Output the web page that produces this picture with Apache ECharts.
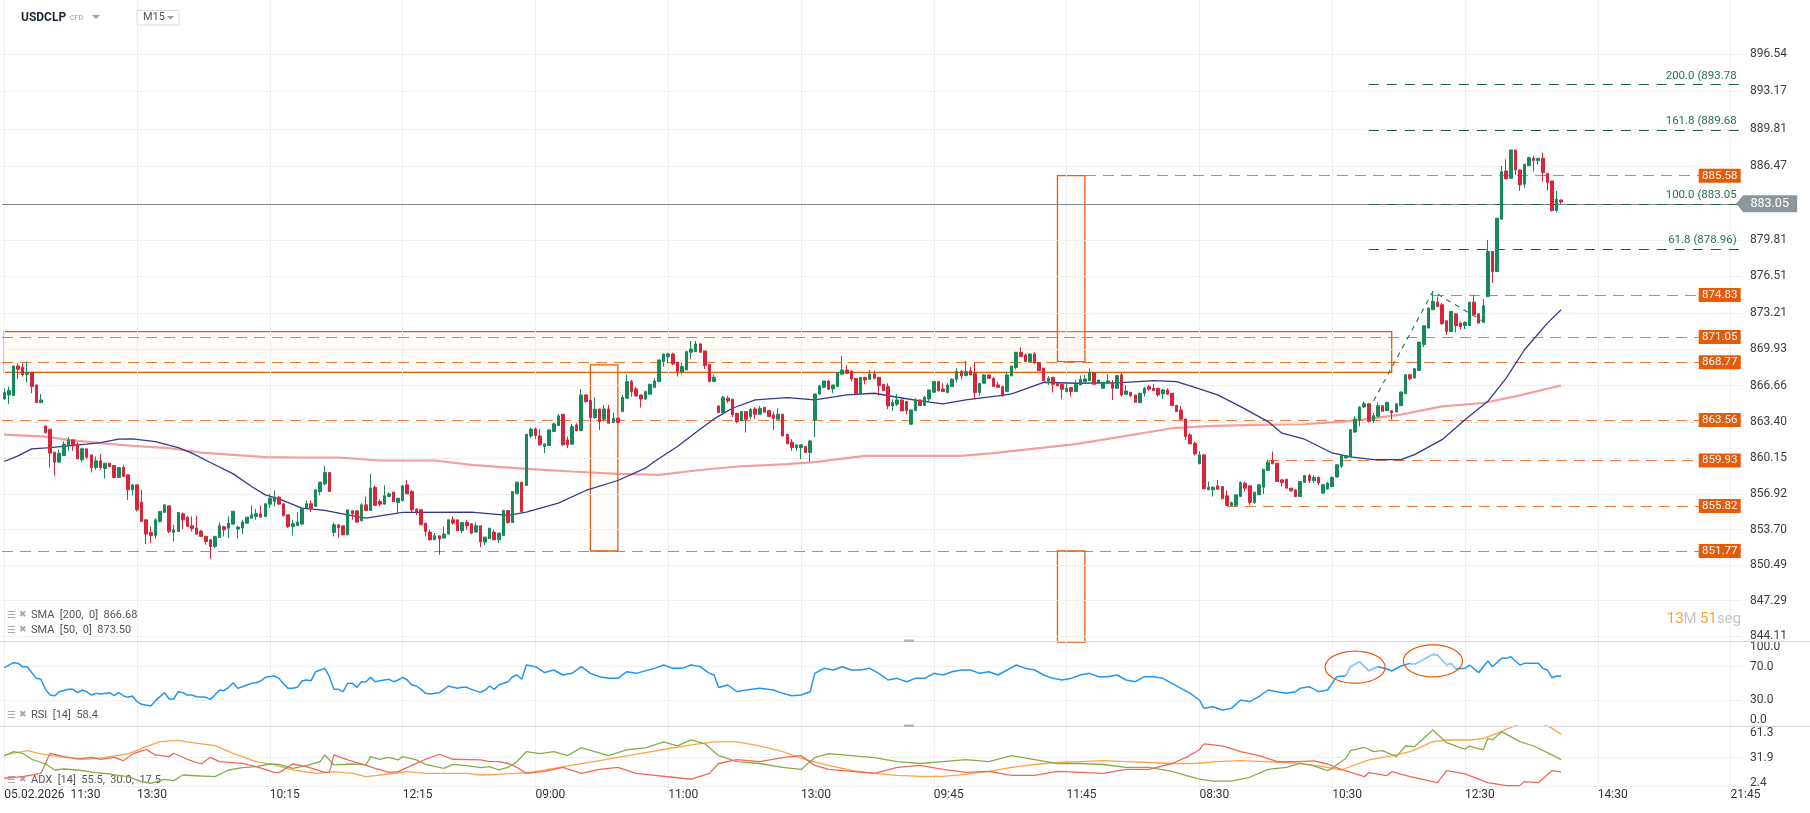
<!DOCTYPE html>
<html>
<head>
<meta charset="utf-8">
<title>USDCLP M15</title>
<script src="https://cdn.jsdelivr.net/npm/echarts@6.0.0/dist/echarts.min.js"></script>
<style>
html,body{margin:0;padding:0;background:#ffffff;overflow:hidden}
#chart{width:1810px;height:813px}
</style>
</head>
<body>
<div id="chart"></div>
<script>
// ================= DATA =================
const symbolName = 'USDCLP';
const timeframe = 'M15';
const xTickLabels = ['05.02.2026  11:30','13:30','10:15','12:15','09:00','11:00','13:00','09:45','11:45','08:30','10:30','12:30','14:30','21:45'];
const barsPerTick = 29;
const slotCount = 380;
const priceTickLabels = [896.54, 893.17, 889.81, 886.47, 879.81, 876.51, 873.21, 869.93, 866.66, 863.40, 860.15, 856.92, 853.70, 850.49, 847.29, 844.11];

// candles: [open, high, low, close]
const ohlc = [
[865.47,866.43,865.38,866.04],[865.83,866.58,865.02,866.22],[865.77,868.44,865.77,868.44],[868.44,868.68,867.27,868.14],[868.32,868.68,867.48,867.63],
[867.69,868.83,866.94,867.87],[867.87,867.87,865.98,866.58],[866.73,866.73,865.14,865.14],[865.14,865.92,865.14,865.38],[863.04,863.04,862.32,862.44],
[862.74,862.74,859.29,860.58],[860.67,860.67,858.57,859.77],[859.77,860.88,859.77,860.58],[860.37,861.63,860.37,861.39],[861.24,862.02,860.79,861.78],
[861.78,861.78,860.79,861.24],[861.39,861.54,860.07,860.07],[859.98,861.09,859.77,860.97],[860.97,860.97,860.07,860.22],[860.43,860.43,858.84,859.29],
[859.29,860.28,859.08,859.89],[859.89,860.49,859.08,859.29],[859.20,859.68,858.30,859.68],[859.68,859.68,859.29,859.38],[859.47,859.47,858.30,858.39],
[858.39,859.29,858.39,859.29],[859.29,859.53,858.48,858.48],[858.63,858.63,856.38,857.28],[857.28,857.79,856.77,857.73],[857.73,857.73,855.33,855.48],
[856.17,857.28,854.43,854.43],[854.58,854.58,852.39,853.29],[853.44,853.98,852.48,853.17],[853.17,854.73,852.87,854.58],[854.43,855.33,854.34,855.33],
[855.24,855.93,855.24,855.93],[855.84,855.84,853.38,853.53],[853.44,854.13,852.63,853.68],[853.53,855.24,853.53,855.24],[855.12,855.24,853.74,854.58],
[854.79,854.94,853.98,853.98],[854.04,854.88,853.53,853.80],[853.83,854.94,853.23,853.29],[853.56,853.68,853.08,853.08],[853.08,853.14,852.33,852.63],
[852.78,852.78,851.04,852.18],[852.18,853.14,852.03,853.08],[852.99,854.34,852.99,854.04],[853.95,854.04,853.08,853.68],[853.83,854.88,852.93,854.28],
[854.19,855.36,854.13,855.36],[853.74,854.04,852.87,853.92],[853.83,854.58,853.29,854.37],[854.28,854.82,854.22,854.82],[854.73,855.87,854.73,855.03],
[854.88,855.57,854.58,855.12],[855.12,855.87,854.82,854.82],[854.88,856.08,854.82,856.02],[855.99,856.92,855.63,856.53],[856.23,857.19,855.78,856.62],
[856.62,856.74,855.93,855.99],[856.02,856.02,854.88,854.97],[855.03,855.03,853.83,853.98],[853.98,854.58,853.17,854.22],[854.07,855.27,853.98,854.37],
[854.19,855.63,854.13,855.57],[855.57,856.32,855.57,856.02],[856.02,856.32,855.27,855.63],[855.78,857.28,855.78,857.28],[857.13,857.97,856.77,857.97],
[857.82,859.44,857.67,858.84],[858.84,858.84,857.13,857.13],[853.44,854.34,853.08,854.13],[854.13,854.13,852.99,853.89],[854.04,854.04,853.17,853.23],
[853.23,855.48,853.23,855.48],[855.39,855.39,854.58,855.12],[855.39,855.39,854.28,854.37],[854.49,856.08,854.43,855.93],[855.93,856.68,855.42,855.42],
[855.42,858.72,855.42,857.43],[857.49,857.67,855.87,855.87],[856.23,856.44,855.78,855.99],[855.99,857.67,855.99,856.74],[856.68,857.04,856.68,856.92],
[857.07,857.07,856.23,856.23],[856.14,856.53,855.09,856.53],[856.32,857.64,856.23,857.64],[857.73,858.18,856.92,856.92],[857.13,857.28,855.27,855.48],
[855.54,855.63,855.03,855.33],[855.48,855.54,854.13,854.13],[854.28,854.28,853.08,853.53],[853.47,853.68,852.69,852.78],[852.78,853.38,852.78,853.14],
[853.14,853.14,851.43,852.87],[852.93,853.98,852.93,853.29],[853.29,854.58,853.29,854.58],[854.58,854.88,854.13,854.28],[854.58,854.58,853.59,853.59],
[853.59,854.34,853.38,854.34],[854.34,854.58,853.68,854.04],[854.22,854.22,853.29,853.38],[853.47,854.34,853.47,854.04],[854.04,854.04,852.12,852.57],
[852.57,853.02,852.27,853.02],[852.87,853.83,852.87,853.83],[853.47,853.68,852.78,852.78],[852.78,853.38,852.48,853.38],[853.17,855.48,853.17,855.42],
[855.42,855.42,854.22,854.34],[854.34,857.13,854.34,857.13],[856.92,858.03,856.92,857.97],[857.97,857.97,855.18,855.33],[857.67,862.29,857.67,862.29],
[862.14,862.89,861.93,862.74],[862.77,862.89,861.84,862.17],[862.14,862.77,861.27,861.33],[861.18,861.42,860.58,861.42],[861.27,862.68,861.27,862.68],
[862.53,863.34,862.53,863.22],[863.07,864.12,863.07,863.94],[864.09,864.09,861.27,861.33],[861.78,862.08,861.03,861.33],[861.39,863.22,861.39,862.98],
[863.13,863.28,862.59,862.59],[862.62,866.37,862.62,865.83],[865.83,865.92,865.14,865.23],[865.32,865.32,863.43,863.79],[863.79,865.62,863.67,864.54],
[864.57,864.57,862.68,863.43],[863.64,864.93,863.43,864.57],[864.57,864.93,863.28,863.28],[863.34,864.24,863.34,863.73],[863.73,863.73,863.34,863.34],
[864.33,865.83,864.33,865.62],[865.53,867.63,865.53,867.03],[867.03,867.18,865.68,866.13],[866.37,866.58,865.68,865.74],[865.83,865.83,864.69,865.47],
[865.47,866.22,865.38,866.13],[865.89,866.79,865.89,866.79],[866.49,867.33,866.49,867.09],[867.03,868.98,867.03,868.98],[868.83,869.52,868.38,869.52],
[869.28,869.64,868.68,869.52],[869.52,869.64,868.53,868.62],[868.77,868.77,867.48,867.93],[867.87,868.74,867.69,868.38],[868.08,869.82,868.08,869.73],
[869.67,870.69,869.04,869.97],[869.73,870.69,869.73,870.42],[870.42,870.48,869.67,869.67],[869.79,869.79,868.17,868.47],[868.59,868.59,867.03,867.03],
[867.03,867.63,867.03,867.42],[864.84,864.84,864.24,864.24],[864.24,865.74,864.24,865.62],[865.53,865.74,865.08,865.29],[865.44,865.44,863.82,864.03],
[864.18,864.18,863.28,863.43],[863.49,864.33,863.49,864.33],[864.33,864.33,862.44,863.64],[863.88,864.63,863.64,864.54],[864.57,864.72,863.64,864.09],
[864.09,864.84,864.03,864.63],[864.72,864.72,864.27,864.27],[864.42,864.48,863.88,863.88],[864.03,864.33,862.68,863.73],[863.64,864.63,863.64,864.09],
[864.09,864.09,862.08,862.14],[862.29,862.29,861.42,861.42],[861.57,861.84,860.79,861.09],[861.09,861.33,860.79,861.33],[861.09,861.42,860.04,861.33],
[861.18,861.24,860.64,860.64],[860.64,861.78,859.83,861.69],[863.58,865.92,862.02,865.92],[865.92,866.73,865.83,866.64],[866.52,867.09,866.43,867.09],
[867.09,867.18,866.34,866.34],[866.37,866.73,865.98,866.73],[866.58,867.84,866.58,867.84],[867.69,869.34,867.69,868.08],[868.08,868.53,867.78,867.78],
[867.99,867.99,867.03,867.27],[867.33,867.33,865.92,865.92],[865.92,867.42,865.92,867.42],[867.42,867.42,866.79,867.18],[867.24,868.08,867.24,867.72],
[867.72,868.02,867.24,867.33],[867.42,867.42,865.77,866.67],[866.79,866.79,866.22,866.22],[866.58,866.88,864.54,864.84],[864.84,865.44,864.39,865.14],
[864.99,865.92,864.84,865.38],[865.38,865.38,864.39,864.39],[865.23,865.23,864.09,864.42],[863.19,864.48,863.13,864.48],[864.42,865.53,864.42,865.38],
[865.38,865.38,864.87,864.87],[864.87,865.74,864.87,865.62],[865.47,866.28,865.17,866.28],[866.07,867.09,866.07,867.03],[867.03,867.03,866.19,866.19],
[866.37,866.88,866.13,866.13],[866.04,866.88,866.04,866.73],[866.58,867.33,866.58,867.24],[867.24,868.23,866.97,867.93],[867.93,868.08,867.24,867.54],
[867.57,868.89,867.57,867.93],[867.99,868.38,867.63,867.63],[867.78,868.74,865.44,866.04],[866.04,866.88,865.74,866.88],[866.88,867.72,866.88,867.63],
[867.63,867.63,867.33,867.33],[867.33,867.42,866.58,866.58],[866.73,867.03,866.52,866.52],[866.58,866.64,865.68,865.74],[866.13,867.93,866.13,867.63],
[867.54,868.44,867.54,868.44],[868.29,869.67,868.14,869.67],[869.67,870.12,869.28,869.28],[869.43,869.58,868.83,868.83],[868.83,869.58,868.83,869.52],
[869.52,869.67,868.62,868.74],[868.74,868.74,868.02,868.02],[868.23,868.23,867.12,867.12],[867.09,867.54,866.73,867.33],[867.42,867.42,866.04,866.79],
[866.88,866.88,866.64,866.64],[866.79,866.79,865.44,866.34],[866.13,866.88,866.07,866.43],[866.49,866.49,865.68,866.13],[866.13,867.18,866.13,866.79],
[866.73,867.57,866.73,867.24],[867.03,867.63,867.03,867.27],[867.12,868.23,867.12,867.84],[867.84,867.84,866.79,866.79],[866.88,867.18,866.88,867.18],
[866.43,866.97,866.43,866.97],[866.88,867.69,866.88,867.09],[866.94,867.18,865.38,866.43],[866.43,867.57,866.43,867.57],[867.63,867.84,865.68,865.83],
[865.89,866.73,865.89,866.19],[866.07,866.07,865.62,865.77],[865.83,865.83,865.17,865.17],[865.14,866.04,865.08,865.98],[865.98,866.58,865.68,866.43],
[866.58,866.73,866.22,866.34],[866.43,866.82,866.22,866.22],[866.43,866.43,865.68,865.83],[865.92,866.37,865.47,866.28],[866.28,866.43,865.89,865.89],
[865.98,865.98,864.87,864.87],[864.90,864.90,864.33,864.33],[864.48,864.84,863.64,863.64],[863.67,863.67,861.78,862.08],[862.23,862.38,861.42,861.42],
[861.48,861.63,860.37,860.52],[859.62,860.73,859.62,860.43],[860.43,860.43,857.37,857.37],[857.28,858.03,857.28,857.52],[857.28,857.58,856.68,857.52],
[857.64,858.18,857.28,857.34],[857.58,857.58,856.47,856.47],[856.74,857.22,855.87,855.87],[855.87,856.23,855.87,856.14],[855.87,856.83,855.87,856.83],
[856.68,858.03,856.68,857.94],[857.88,858.03,857.13,857.43],[857.64,857.64,855.93,856.14],[856.14,857.07,856.02,857.07],[856.83,857.82,856.83,857.73],
[857.52,859.14,856.89,859.14],[859.02,859.98,859.02,859.77],[859.92,860.73,859.62,859.62],[859.68,859.68,858.03,858.03],[858.18,858.18,857.58,857.94],
[858.24,858.24,857.43,857.43],[857.43,857.43,857.13,857.19],[857.28,857.28,856.62,856.68],[856.68,858.03,856.62,858.03],[857.94,858.63,857.94,858.57],
[858.57,858.70,857.90,858.10],[858.10,858.60,857.90,858.40],[858.40,858.50,857.70,857.90],[856.99,857.80,856.90,857.74],[857.35,858.00,857.30,857.89],
[857.59,858.50,857.50,858.40],[858.43,859.60,858.40,859.54],[859.40,860.45,859.25,860.36],[860.15,860.40,860.10,860.36],[860.24,862.70,860.24,862.70],
[862.49,863.90,862.40,863.66],[863.60,864.80,863.00,864.74],[864.74,865.25,864.65,865.04],[865.04,865.04,863.36,863.45],[863.51,864.20,863.30,863.96],
[863.90,865.16,863.90,864.86],[864.86,864.86,864.35,864.35],[864.41,865.16,864.41,865.16],[864.41,864.41,863.60,864.20],[864.29,865.04,864.29,865.04],
[864.86,866.15,864.86,866.09],[865.94,867.71,865.94,867.65],[867.65,867.65,867.14,867.29],[867.35,868.25,867.35,868.19],[868.04,870.59,868.04,870.59],
[870.35,872.06,870.14,872.06],[871.85,873.71,871.85,873.65],[873.50,875.15,873.50,874.25],[874.19,874.70,873.80,873.80],[873.95,874.10,872.15,872.24],
[872.51,872.51,871.25,871.55],[871.55,873.35,871.55,873.35],[873.14,873.14,871.46,872.06],[872.30,872.45,871.76,872.00],[872.09,872.45,871.76,872.36],
[872.09,874.19,872.09,874.19],[874.19,874.85,872.96,873.05],[873.14,873.14,872.30,872.30],[872.36,874.46,872.36,873.86],[874.70,879.80,874.70,878.75],
[878.75,878.75,875.90,876.95],[876.95,881.75,876.95,881.75],[881.66,886.46,881.66,885.95],[886.01,887.06,885.29,885.29],[885.35,887.90,885.35,887.90],
[887.90,887.90,885.65,886.10],[886.10,886.10,884.21,884.75],[884.81,886.61,884.45,886.61],[886.49,887.30,886.46,887.21],[887.15,887.36,885.95,886.94],
[886.94,887.15,886.55,887.15],[887.15,887.66,885.05,885.86],[885.80,885.80,884.24,884.99],[885.11,885.11,882.35,882.44],[882.44,884.21,882.26,883.46],
[883.40,883.40,883.04,883.20]
];

// moving averages: [barIndex, value]
const sma200 = [[0,862.26],[9,862.08],[14,861.78],[21,861.48],[28,861.24],[36,861.03],[43,860.64],[50,860.43],[57,860.22],[65,860.19],[73,860.19],[82,859.92],[94,859.92],[102,859.53],[114,859.17],[124,858.93],[134,858.72],[143,858.63],[151,859.02],[160,859.38],[171,859.59],[177,859.77],[188,860.34],[209,860.34],[216,860.58],[227,861.09],[234,861.39],[244,862.08],[255,862.83],[264,863.04],[274,863.13],[284,863.19],[295,863.51],[305,864.05],[314,864.80],[323,865.10],[330,865.70],[340,866.68]];
const sma50 = [[0,859.83],[3,860.34],[6,860.97],[10,861.09],[14,861.24],[18,861.39],[21,861.54],[25,861.84],[28,861.87],[33,861.63],[38,861.09],[41,860.58],[45,859.74],[50,858.72],[54,857.58],[57,856.83],[60,856.47],[65,855.63],[70,855.42],[75,855.03],[79,854.73],[87,855.24],[102,855.27],[110,854.97],[114,855.27],[121,856.08],[127,857.22],[134,858.12],[140,859.23],[142,859.83],[147,861.18],[151,862.44],[155,863.67],[159,864.63],[164,865.38],[171,865.59],[177,865.38],[184,865.83],[190,865.98],[195,865.62],[200,865.29],[205,865.02],[210,865.38],[217,865.74],[220,865.92],[227,866.97],[234,866.88],[244,866.94],[251,867.12],[256,867.03],[260,866.52],[265,865.83],[270,864.78],[276,863.43],[279,862.38],[284,861.84],[290,860.60],[294,860.24],[299,860.00],[305,860.00],[308,860.45],[314,861.80],[319,863.60],[324,865.25],[328,867.35],[332,869.90],[337,872.30],[340,873.50]];

// RSI(14): [barIndex, value]
const rsi14 = [[0,68.8],[2,74.8],[3,74],[4,70],[5,70],[7,56],[8,55],[9,42.8],[10,36],[11,35],[12,40],[14,43],[15,42.8],[16,38.8],[17,42],[18,40],[19,36],[20,38],[21,37.2],[23,38.8],[24,35.2],[25,38.8],[26,35.2],[27,33.2],[28,34.8],[29,28],[30,24.8],[32,22.8],[33,29.2],[34,34],[35,38.8],[36,31.2],[37,31.2],[38,40],[39,38.8],[40,36],[41,36],[42,34],[44,33.2],[45,30.8],[46,36],[47,42],[48,41.2],[49,45.2],[50,50.8],[51,44],[52,46],[53,48],[54,50],[55,50.8],[56,52.8],[57,57.2],[59,58.8],[60,56],[61,49.2],[62,44],[63,44],[64,45.2],[65,52.8],[66,54],[67,53.2],[68,64],[69,66],[70,68],[71,58],[72,42.8],[73,42.8],[74,40],[75,50],[76,50],[77,45.2],[78,52],[79,52],[80,57.2],[81,52],[82,53.2],[83,54],[84,54.8],[85,52],[86,54],[87,57.2],[88,54],[89,48],[90,46.8],[91,42.8],[92,38],[93,37.2],[95,38.8],[96,42.8],[97,46.8],[98,45.2],[99,44],[100,45.2],[101,45.2],[102,42.8],[104,39.2],[105,42],[106,46.8],[107,42.8],[108,48],
[110,52],[111,58],[112,60],[113,55],[114,72],[116,70],[118,63],[120,66],[122,60],[124,62],[126,70],[128,62],[130,58],[132,56],[134,56],[136,64],[138,62],[140,65],[142,68],[144,72],[146,68],[148,68],[150,72],[152,70],[154,62],[155,60],[156,45],[158,48],[160,40],[162,42],[165,44],[168,42],[170,38],[172,35],[174,36],[176,40],[177,62],[179,68],[181,66],[183,70],[185,66],[187,66],[189,68],[191,62],[193,54],[195,56],[197,52],[199,56],[201,56],[203,62],[205,60],[207,64],[209,66],[211,66],[213,62],[215,64],[217,60],[219,66],[221,72],[223,68],[225,66],[227,60],[229,56],[231,54],[233,56],[235,60],[237,62],[239,58],[241,58],[243,60],[245,54],[247,52],[249,58],[251,58],[253,56],[255,50],[257,44],[259,38],[261,30],[262,20],[264,22],[266,18],[268,20],[270,30],[272,28],[274,34],[276,42],[278,40],[280,38],[282,40],
[283,44],[285,46],[287,40],[289,42],[291,58],[293,59.2],[294,70],[296,76],[298,65.2],[300,70],[302,67.2],[303,64.8],[305,70.8],[307,74],[308,72.8],[310,78.8],[312,84.8],[313,84],[315,72],[316,74],[317,67.2],[319,68],[320,72],[322,62.8],[324,76.8],[325,70],[327,80],[328,80],[329,82],[331,72],[332,74],[335,74],[336,68],[337,66],[338,56.8],[339,58.8],[340,58.4]];
const rsiHighlightRanges = [[293,301],[307,317]];

// ADX(14), +DI, -DI: [barIndex, value]
const adxLine = [[0,34.7],[5,39.1],[8,35.7],[12,33],[17,30.3],[22,32.3],[27,35.7],[31,43.1],[34,48.2],[38,49.6],[41,47.2],[46,44.2],[50,36.4],[55,27.9],[59,24.5],[63,19.4],[68,16],[72,17.7],[76,16],[79,12.6],[84,15.3],[88,17.7],[92,16],[101,16],[104,14.3],[108,15],
[115,17],[120,21],[125,25],[130,29],[135,33],[140,37],[145,41],[150,45],[155,48],[160,48],[165,44],[170,38],[175,30],[180,24],[185,19],[190,16],[195,14],[200,13],[205,13],[210,15],[215,18],[220,22],[225,25],[230,27],[235,28],[240,29],[245,28],[250,27],[255,26],[260,26],[265,28],[270,29],[275,28],[280,27],
[283,26.2],[288,22.8],[292,19.4],[298,29.6],[303,33.7],[307,38.1],[312,48.2],[315,49.9],[320,49.9],[323,51.6],[326,56.7],[329,62.8],[331,66],[336,66],[338,62],[340,55.5]];
const diPlus = [[0,33.6],[2,38],[4,36.4],[6,30.3],[9,25.5],[11,19.4],[13,20.4],[16,19.4],[20,16.7],[23,15.3],[27,12.6],[30,7.6],[32,5.9],[35,9.9],[37,8.6],[39,14.3],[43,13.3],[46,12.6],[49,19.4],[52,21.8],[55,22.8],[58,25.5],[60,25.2],[63,21.1],[66,23.8],[69,27.9],[70,34.7],[72,24.5],[76,25.5],[79,24.5],[80,33],[82,30.3],[84,32.3],[86,29.6],[87,33],[90,29.6],[92,25.2],[96,21.1],[98,25.2],[101,23.8],[104,21.8],[106,22.8],[108,19.4],
[110,22],[112,28],[114,38],[117,36],[120,38],[123,34],[126,42],[129,38],[132,34],[136,40],[140,42],[144,48],[147,44],[150,50],[153,46],[156,34],[160,28],[165,26],[170,22],[174,20],[177,32],[180,36],[185,34],[190,32],[195,28],[200,26],[205,28],[210,30],[215,28],[220,34],[225,30],[230,26],[235,26],[240,25],[245,22],[250,22],[255,18],[258,14],[261,10],[264,8],[268,8],[272,12],[276,20],[280,22],
[283,26.2],[286,23.5],[289,18.7],[290,21.1],[293,31.3],[294,39.1],[297,42.5],[299,38.1],[301,39.1],[304,33],[306,43.8],[308,43.2],[312,60.1],[315,47.2],[319,40.4],[320,43.8],[323,39.8],[324,51.6],[325,49.9],[327,58.4],[331,48.2],[334,43.8],[337,37],[340,30]];
const diMinus = [[0,11],[4,12.6],[8,16],[10,36.4],[13,33],[16,30.6],[19,32.3],[21,30.3],[24,32.3],[26,28.9],[28,35.7],[31,40.4],[33,34.7],[36,33],[37,36.4],[40,30.3],[43,25.5],[45,32.3],[47,27.9],[52,26.2],[55,22.8],[59,17],[60,16.7],[63,25.5],[66,22.8],[70,17],[71,17],[72,34.7],[75,29.6],[78,25.5],[81,21.1],[84,17],[86,17.7],[90,26.2],[92,30.3],[95,35.4],[98,30.3],[104,29.6],[106,27.9],[108,27.9],
[110,26],[112,22],[114,16],[118,18],[122,22],[126,16],[130,20],[134,22],[138,16],[142,14],[146,12],[150,10],[154,16],[156,26],[160,30],[165,28],[170,32],[174,34],[177,24],[180,20],[185,18],[190,16],[195,22],[200,24],[205,20],[210,17],[215,18],[220,14],[225,14],[230,18],[235,17],[240,16],[245,20],[250,20],[255,26],[258,32],[261,40],[262,46],[266,44],[270,38],[274,34],[278,28],[281,28],
[283,27.9],[286,28.6],[289,25.5],[292,20.1],[297,12.6],[298,16.7],[302,13.7],[303,17.7],[307,12.6],[313,6.5],[315,18.7],[319,15.4],[324,6.5],[328,3.5],[331,3.5],[332,7.6],[335,6.5],[338,18.7],[340,17.5]];

// drawn levels (null start = line drawn across the whole panel)
const srLevels = [885.58, 874.83, 871.05, 868.77, 863.56, 859.93, 855.82, 851.77];
const srStartBar = [236, 312, null, null, null, 276, 267, null];
const fibLevels = [893.78, 889.68, 883.05, 878.96];
const fibNames = ['200.0 (893.78', '161.8 (889.68', '100.0 (883.05', '61.8 (878.96)'];
const fibStartBar = 298;
const fibAnchors = [[298, 864.5], [312, 875.15], [323, 872.45]];
const rangeBox = [[-2, 871.53], [303, 867.87]];
const projBoxes = [[[128, 868.53], [134, 851.77]], [[230, 885.58], [236, 868.83]], [[230, 851.77], [236, 843.57]]];
const lastPrice = 883.05;
const smaLegend = ['SMA  [200,  0]  866.68', 'SMA  [50,  0]  873.50'];
const rsiLegend = 'RSI  [14]  58.4';
const adxLegend = 'ADX  [14]  55.5,  30.0,  17.5';
const rsiTicks = [100, 70, 30, 0];
const adxTicks = [61.3, 31.9, 2.4];
const countdown = ['13', 'M', '51', 'seg'];

// ================= CHART =================
const UP = '#178a5a', DOWN = '#d9253b', ORANGE = '#e8590c', FIBC = '#1d6048';
const FONT = 'Roboto, "Noto Sans", sans-serif';
const NOLINE = 'rgba(0,0,0,0)';
const categories = Array.from({length: slotCount}, (_, i) =>
  (i % barsPerTick === 0 && xTickLabels[i / barsPerTick] !== undefined) ? xTickLabels[i / barsPerTick] : '');
const vGridBars = xTickLabels.map((_, k) => k * barsPerTick);
const lastBar = slotCount - 1;

const chart = echarts.init(document.getElementById('chart'), null, {width: 1810, height: 813});

const gridBase = {left: 2, right: 68, outerBoundsMode: 'none', containLabel: false};
const grids = [
  Object.assign({top: 0, height: 642}, gridBase),
  Object.assign({top: 641.7, height: 83.3}, gridBase),
  Object.assign({top: 726, height: 63}, gridBase)
];
const xAxes = [0, 1, 2].map(g => ({
  type: 'category', gridIndex: g, data: categories, boundaryGap: true,
  axisLine: {show: false}, axisTick: {show: false}, splitLine: {show: false},
  axisLabel: g === 2 ? {show: true, interval: barsPerTick - 1, align: 'left', margin: 0, color: '#333', fontSize: 12, fontFamily: FONT} : {show: false}
}));
const hiddenY = {axisLine: {show: false}, axisTick: {show: false}, axisLabel: {show: false}, splitLine: {show: false}};
const yAxes = [
  Object.assign({type: 'value', gridIndex: 0, min: 843.57, max: 901.41}, hiddenY),
  Object.assign({type: 'value', gridIndex: 1, min: 0, max: 100}, hiddenY),
  Object.assign({type: 'value', gridIndex: 2, min: 0.06, max: 64.15}, hiddenY)
];

const vLineItems = vGridBars.map(b => ({xAxis: b, label: {show: false}}));
const gridLineStyle = {color: '#efefef', width: 1, type: 'solid'};
const tickLabel = {show: true, position: 'end', distance: 8, color: '#3c3c3c', fontSize: 12, fontFamily: FONT};

function helper(g, items) {
  return {
    type: 'line', xAxisIndex: g, yAxisIndex: g, data: [], clip: false, silent: true, z: 1,
    markLine: {silent: true, symbol: 'none', animation: false, lineStyle: gridLineStyle, label: tickLabel, data: items}
  };
}

const mainGridItems = priceTickLabels.map(v => ({yAxis: v, label: {formatter: v.toFixed(2)}})).concat(vLineItems);
const rsiGridItems = rsiTicks.map(v => {
  const edge = (v === 100 || v === 0);
  return {yAxis: v, label: {formatter: v.toFixed(1), offset: [0, v === 100 ? 5 : (v === 0 ? -5 : 0)]},
    lineStyle: edge ? {color: NOLINE, width: 1, type: 'solid'} : gridLineStyle};
}).concat(vLineItems);
const adxGridItems = adxTicks.map((v, k) => ({yAxis: v, label: {formatter: v.toFixed(1), offset: [0, k === 0 ? 4 : (k === 2 ? -4 : 0)]},
  lineStyle: k === 0 ? {color: NOLINE, width: 1, type: 'solid'} : gridLineStyle})).concat(vLineItems);

// overlays
const srLines = srLevels.map((v, k) => srStartBar[k] === null ? {yAxis: v} : [{coord: [srStartBar[k], v]}, {coord: [lastBar, v]}]);
const fibLines = fibLevels.map((v, k) => [{coord: [fibStartBar, v], label: {formatter: fibNames[k]}}, {coord: [lastBar, v]}]);

const srTags = srLevels.map(v => ({
  coord: [lastBar, v], symbol: 'rect', symbolSize: [42, 14], symbolOffset: [-20, 0],
  itemStyle: {color: '#e65a0a'},
  label: {show: true, position: 'inside', formatter: v.toFixed(2), color: '#fff', fontSize: 11.5, fontFamily: FONT}
}));
const priceTag = {
  coord: [lastBar, lastPrice], symbol: 'path://M0,8.5 L7,0 L61,0 L61,17 L7,17 Z', symbolSize: [61, 17], symbolKeepAspect: false,
  symbolOffset: [27, 0], itemStyle: {color: '#8b969d'},
  label: {show: true, position: 'inside', formatter: lastPrice.toFixed(2), color: '#fff', fontSize: 12.5, fontFamily: FONT, offset: [3, 0]}
};

function rsiSegment(range) {
  return rsi14.filter(p => p[0] >= range[0] && p[0] <= range[1]);
}

const series = [
  helper(0, mainGridItems),
  helper(1, rsiGridItems),
  helper(2, adxGridItems),
  {
    type: 'line', xAxisIndex: 0, yAxisIndex: 0, data: [], clip: true, silent: true, z: 2,
    markArea: {
      silent: true, animation: false,
      data: [
        [{coord: rangeBox[0], itemStyle: {color: 'rgba(255,236,215,0.22)', borderColor: ORANGE, borderWidth: 1.3}}, {coord: rangeBox[1]}]
      ].concat(projBoxes.map(b => [{coord: b[0], itemStyle: {color: 'rgba(255,240,225,0.18)', borderColor: ORANGE, borderWidth: 1.3}}, {coord: b[1]}]))
    }
  },
  {
    type: 'line', xAxisIndex: 0, yAxisIndex: 0, data: [], clip: true, silent: true, z: 3,
    markLine: {silent: true, symbol: 'none', animation: false,
      lineStyle: {color: '#7d8a93', width: 1, type: 'solid'}, label: {show: false}, data: [{yAxis: lastPrice}]}
  },
  {
    type: 'line', xAxisIndex: 0, yAxisIndex: 0, data: [], clip: true, silent: true, z: 3,
    markLine: {silent: true, symbol: 'none', animation: false,
      lineStyle: {color: '#ec6a25', width: 1.2, type: [11, 7], opacity: 0.9}, label: {show: false}, data: srLines}
  },
  {
    type: 'line', xAxisIndex: 0, yAxisIndex: 0, data: [], clip: false, silent: true, z: 4,
    markLine: {silent: true, symbol: 'none', animation: false,
      lineStyle: {color: FIBC, width: 1.2, type: [10, 8]},
      label: {show: true, position: 'insideEndTop', distance: 3, color: '#2a6e52', fontSize: 11.5, fontFamily: FONT},
      data: fibLines}
  },
  {type: 'line', xAxisIndex: 0, yAxisIndex: 0, data: sma200, symbol: 'none', silent: true, z: 5,
   lineStyle: {color: 'rgba(238,100,100,0.62)', width: 2.2}},
  {type: 'line', xAxisIndex: 0, yAxisIndex: 0, data: sma50, symbol: 'none', silent: true, z: 6,
   lineStyle: {color: '#33388c', width: 1.3}},
  {
    type: 'candlestick', xAxisIndex: 0, yAxisIndex: 0, barWidth: 3, z: 7, silent: true,
    data: ohlc.map(r => [r[0], r[3], r[2], r[1]]),
    itemStyle: {color: UP, color0: DOWN, borderColor: UP, borderColor0: DOWN, borderColorDoji: UP, borderWidth: 1}
  },
  {type: 'line', xAxisIndex: 0, yAxisIndex: 0, data: fibAnchors, symbol: 'none', silent: true, z: 8,
   lineStyle: {color: '#2f7d5c', width: 1.2, type: [5, 5]}},
  {
    type: 'line', xAxisIndex: 0, yAxisIndex: 0, data: [], clip: false, silent: true, z: 9,
    markPoint: {silent: true, animation: false, data: srTags.concat([priceTag])}
  },
  {type: 'line', xAxisIndex: 1, yAxisIndex: 1, data: rsi14, symbol: 'none', silent: true, z: 5,
   lineStyle: {color: '#2196f3', width: 1.5}}
].concat(rsiHighlightRanges.map(r => ({
  type: 'line', xAxisIndex: 1, yAxisIndex: 1, data: rsiSegment(r), symbol: 'none', silent: true, z: 6,
  lineStyle: {color: '#9fd0fa', width: 1.6}
}))).concat([
  {type: 'line', xAxisIndex: 2, yAxisIndex: 2, data: adxLine, symbol: 'none', silent: true, z: 5,
   lineStyle: {color: '#f9a54b', width: 1.3}},
  {type: 'line', xAxisIndex: 2, yAxisIndex: 2, data: diPlus, symbol: 'none', silent: true, z: 5,
   lineStyle: {color: '#86ad4c', width: 1.3}},
  {type: 'line', xAxisIndex: 2, yAxisIndex: 2, data: diMinus, symbol: 'none', silent: true, z: 5,
   lineStyle: {color: '#ee6a55', width: 1.3}}
]);

function legendRow(id, y, text) {
  return [
    {type: 'text', id: id + '_i', left: 7, top: y - 6, silent: true, style: {text: '\u2630', fill: '#a8a8a8', font: '10px "DejaVu Sans"'}},
    {type: 'text', id: id + '_x', left: 19, top: y - 6, silent: true, style: {text: '\u2716', fill: '#a8a8a8', font: '9px "DejaVu Sans"'}},
    {type: 'text', id: id + '_t', left: 31, top: y - 6, silent: true, style: {text: text, fill: '#555', font: '11px ' + FONT}}
  ];
}

const staticGraphics = [
  {type: 'line', id: 'sep1', silent: true, shape: {x1: 0, y1: 641.5, x2: 1810, y2: 641.5}, style: {stroke: '#d6d6d6', lineWidth: 1}, z: 50},
  {type: 'line', id: 'sep2', silent: true, shape: {x1: 0, y1: 726.5, x2: 1810, y2: 726.5}, style: {stroke: '#d6d6d6', lineWidth: 1}, z: 50},
  {type: 'rect', id: 'h1', silent: true, shape: {x: 904, y: 639.5, width: 10, height: 2.5}, style: {fill: '#b5b5b5'}, z: 51},
  {type: 'rect', id: 'h2', silent: true, shape: {x: 904, y: 724.5, width: 10, height: 2.5}, style: {fill: '#b5b5b5'}, z: 51},
  {type: 'text', id: 'sym', left: 21, top: 11.5, silent: true, style: {text: symbolName, fill: '#1d2733', font: 'bold 12px ' + FONT}, z: 60},
  {type: 'text', id: 'cfd', left: 70, top: 14.5, silent: true, style: {text: 'CFD', fill: '#9a9a9a', font: '7px ' + FONT}, z: 60},
  {type: 'polygon', id: 'tri1', silent: true, shape: {points: [[92, 15], [100, 15], [96, 19]]}, style: {fill: '#9a9a9a'}, z: 60},
  {type: 'rect', id: 'tfbox', silent: true, shape: {x: 137, y: 10.5, width: 42, height: 14.5}, style: {fill: '#fff', stroke: '#dcdcdc', lineWidth: 1}, z: 59},
  {type: 'text', id: 'tf', left: 143, top: 12, silent: true, style: {text: timeframe, fill: '#555', font: '11px ' + FONT}, z: 60},
  {type: 'polygon', id: 'tri2', silent: true, shape: {points: [[167, 16], [174, 16], [170.5, 19.5]]}, style: {fill: '#9a9a9a'}, z: 60},
  {type: 'text', id: 'cd', right: 69, top: 612, silent: true, z: 60,
   style: {text: '{a|' + countdown[0] + '}{b|' + countdown[1] + '} {a|' + countdown[2] + '}{b|' + countdown[3] + '}',
     rich: {a: {fill: '#f7a535', font: '15px ' + FONT}, b: {fill: '#c4c4c4', font: '15px ' + FONT}}}}
].concat(legendRow('l1', 616, smaLegend[0]), legendRow('l2', 631, smaLegend[1]), legendRow('l3', 716, rsiLegend), legendRow('l4', 781, adxLegend));

chart.setOption({
  animation: false,
  backgroundColor: '#ffffff',
  textStyle: {fontFamily: FONT},
  grid: grids, xAxis: xAxes, yAxis: yAxes,
  series: series,
  graphic: staticGraphics
});

// ellipse annotations on the RSI panel, located through the axes
const ellipseSpecs = [{bar: 295, val: 69.4, rx: 30, ry: 16}, {bar: 312, val: 77, rx: 29.5, ry: 16}];
const ellipses = ellipseSpecs.map((e, k) => {
  const c = chart.convertToPixel({xAxisIndex: 1, yAxisIndex: 1}, [e.bar, e.val]);
  const pts = [];
  for (let t = 0; t < 64; t++) {
    const a = t / 64 * Math.PI * 2;
    pts.push([c[0] + e.rx * Math.cos(a), c[1] + e.ry * Math.sin(a)]);
  }
  return {type: 'polygon', id: 'ell' + k, silent: true, shape: {points: pts}, style: {fill: 'none', stroke: ORANGE, lineWidth: 1.2}, z: 40};
});
chart.setOption({graphic: staticGraphics.concat(ellipses)});
</script>
</body>
</html>
